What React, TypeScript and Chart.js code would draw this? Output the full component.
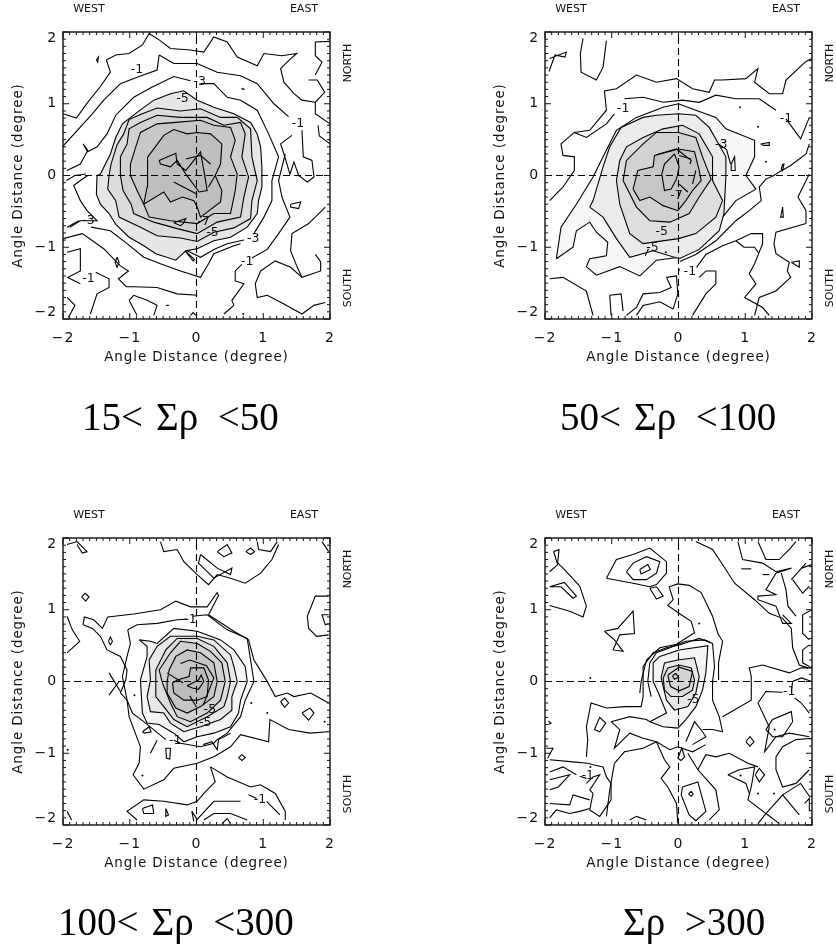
import React, { useEffect, useRef } from "react";
import { Chart, registerables } from "chart.js";

Chart.register(...registerables);

// Values are degrees, stored as flat x,y lists. Filled contours go outermost to innermost.
const tickValues = [-2, -1, 0, 1, 2];
const xAxisTitle = "Angle Distance (degree)";
const yAxisTitle = "Angle Distance (degree)";
const captions = ["15<\u2004\u03A3\u03C1\u2002<50", "50<\u2004\u03A3\u03C1\u2002<100", "100<\u2004\u03A3\u03C1\u2002<300", "\u03A3\u03C1\u2002>300"];

const panelAFills: number[][] = [
  [-1.49,0,-1.5,-0.26,-1.44,-0.4,-1.31,-0.53,-1.21,-0.68,-1.01,-0.86,-0.79,-0.98,-0.61,-1.09,-0.31,-1.18,-0.16,-1.05,0.01,-1.02,0.26,-0.91,0.51,-0.86,0.76,-0.72,0.91,-0.53,0.93,-0.35,0.98,-0.16,0.98,0.12,0.96,0.4,0.91,0.58,0.81,0.74,0.56,0.86,0.26,0.95,0.01,1.05,-0.19,1.18,-0.39,1.14,-0.64,1.05,-0.89,0.88,-1.11,0.72,-1.21,0.53,-1.29,0.3,-1.44,0.02],
  [-1.31,0,-1.33,-0.19,-1.21,-0.35,-1.16,-0.58,-0.84,-0.72,-0.59,-0.84,-0.24,-0.87,0.01,-0.92,0.26,-0.79,0.56,-0.73,0.81,-0.6,0.83,-0.35,0.91,-0.07,0.83,0.26,0.81,0.65,0.61,0.81,0.36,0.81,0.06,0.93,-0.24,0.9,-0.59,0.94,-0.84,0.85,-1.01,0.78,-1.09,0.58,-1.19,0.43,-1.28,0.16],
  [-1.14,0,-1.1,-0.21,-0.98,-0.4,-0.94,-0.53,-0.64,-0.65,-0.29,-0.74,0.01,-0.81,0.31,-0.65,0.66,-0.58,0.71,-0.3,0.78,-0.02,0.68,0.26,0.73,0.58,0.66,0.74,0.41,0.7,0.16,0.81,-0.24,0.81,-0.59,0.84,-0.84,0.74,-1.01,0.65,-1.04,0.44,-1.14,0.26],
  [-0.99,0,-0.89,-0.21,-0.79,-0.4,-0.71,-0.58,-0.39,-0.63,0.01,-0.67,0.26,-0.53,0.51,-0.53,0.58,-0.21,0.61,0.02,0.51,0.26,0.58,0.49,0.51,0.67,0.26,0.7,0.06,0.77,-0.31,0.74,-0.59,0.72,-0.84,0.6,-0.91,0.4,-0.99,0.16],
  [-0.73,0.26,-0.49,0.56,-0.34,0.64,-0.14,0.58,0.01,0.6,0.21,0.58,0.38,0.44,0.36,0.16,0.28,0,0.38,-0.21,0.36,-0.37,0.06,-0.58,0.01,-0.44,-0.04,-0.35,-0.21,-0.3,-0.39,-0.37,-0.49,-0.23,-0.79,-0.4,-0.74,-0.16,-0.74,0,-0.73,0.21],
  [-0.56,0.21,-0.31,0.31,-0.29,0.16,-0.16,0.07,0.06,0.33,0.12,0.02,0.16,-0.21,0.04,-0.23,-0.16,0.02,-0.29,0.21,-0.39,0.12,-0.54,0.16],
];
const panelAFillGreys = ["#e6e6e6", "#dcdcdc", "#d2d2d2", "#c8c8c8", "#bebebe", "#bbbbbb"];
const panelALines: number[][] = [
  [-2,0.86,-1.8,0.8,-1.63,1.02,-1.44,1.24,-1.29,1.44,-1.35,1.61,-1.21,1.68,-1.01,1.7,-0.81,1.82,-0.71,1.98,-0.56,1.89,-0.39,1.77,-0.09,1.75,0.11,1.72,0.26,1.93,0.46,1.86,0.61,1.65,0.91,1.53,1.01,1.7,1.28,1.67,1.5,1.7,1.38,1.6,1.26,1.49,1.31,1.3,1.46,1.14,1.58,1.05,1.78,1.02],
  [-0.56,1.68,-0.59,1.47,-0.89,1.37,-1.14,1.28,-1.39,1.05,-1.56,0.86,-2,0.41],
  [-0.56,1.68,-0.34,1.56,0.01,1.56,0.31,1.44,0.66,1.39,0.91,1.28,1.16,1,1.38,0.82],
  [1.58,0.63,1.6,0.26,1.73,0.21,1.76,-0.02,1.66,-0.09,1.53,0,1.46,0.19,1.4,0.02,1.31,0.3,1.26,0.44,1.43,0.56],
  [2,1.87,1.78,1.86,1.78,1.67,1.88,1.58,1.78,1.4],
  [1.68,1.33,1.81,1.33,1.92,1.16,1.78,1.02,1.78,0.86,2,0.72],
  [1.82,0.7,1.84,0.55,2,0.44],
  [-1.94,0.07,-1.74,0.16,-1.63,0.35,-1.7,0.44,-1.63,0.33,-1.49,0.4,-1.34,0.58,-1.21,0.84,-0.94,1.09,-0.67,1.23,-0.34,1.38,-0.09,1.32],
  [0.06,1.28,0.26,1.28,0.46,1.09,0.66,1.05,0.91,0.91,1.08,0.58,1.23,0.26,1.13,-0.07,1.13,-0.35,1.01,-0.58,0.86,-0.81],
  [0.71,-0.9,0.46,-0.95,0.26,-1.03,0.06,-1.14,-0.14,-1.05],
  [-1.9,-0.72,-1.74,-0.63,-1.49,-0.63,-1.64,-0.49,-1.74,-0.35,-1.84,-0.14,-1.74,-0.07,-1.63,0],
  [-1.94,-0.72,-1.76,-0.63],
  [-1.58,-0.72,-1.29,-0.77,-1.04,-0.95,-0.79,-1.14,-0.54,-1.23,-0.24,-1.33,0.06,-1.42,0.18,-1.23,0.26,-1.09,0.56,-0.98,0.66,-0.95],
  [-2,-0.88,-1.71,-0.81,-1.39,-1.02,-1.14,-1.26,-1.02,-1.33,-1.17,-1.44,-1.05,-1.55,-0.94,-1.55,-0.59,-1.56,-0.29,-1.65,0.01,-1.67],
  [-0.17,-1.05,-0.05,-1.19,-0.03,-1.17,-0.17,-1.05],
  [1.41,-0.4,1.56,-0.37,1.53,-0.46,1.41,-0.44,1.41,-0.4],
  [1.93,-0.44,1.68,-0.67,1.43,-0.81,1.41,-1.05,1.51,-1.28,1.58,-1.42,1.86,-1.33,1.86,-1.2,1.78,-1.1],
  [0.58,-1.33,0.68,-1.24],
  [0.83,-1.15,1.06,-1.03,1.23,-0.81,1.4,-0.58,1.28,-0.3,1.23,-0.07,1.33,0.3],
  [0.58,-1.33,0.58,-1.47,0.71,-1.51,0.53,-1.74,0.56,-1.81,0.41,-1.93],
  [0.96,-1.33,0.88,-1.51,0.91,-1.7,1.06,-1.67,1.31,-1.79,1.58,-1.93,1.76,-1.81,1.93,-1.77],
  [0.96,-1.33,1.18,-1.19,1.41,-1.28,1.58,-1.42],
  [-1.94,-1.07,-1.74,-1.02,-1.74,-1.33,-1.93,-1.42,-1.74,-1.51],
  [-1.51,-1.35,-1.31,-1.44,-1.31,-1.56,-1.49,-1.65,-1.59,-1.93],
  [-1.19,-1.14,-1.16,-1.21,-1.19,-1.28,-1.22,-1.21,-1.19,-1.14],
  [-1.94,-1.7,-1.82,-1.81,-1.92,-1.98],
  [-1.01,-1.74,-0.94,-1.67,-0.74,-1.74,-0.59,-1.81,-0.64,-1.95],
  [-1.01,-1.74,-0.89,-1.95],
  [-0.46,-1.81,-0.41,-1.81],
  [-0.09,-1.95,-0.05,-1.91,-0.01,-1.95],
  [-1.95,-0.07,-1.82,0,-1.66,0.02],
  [-0.16,0.23,0.06,0.28,0.21,0.16],
  [0.28,0,0.18,-0.16],
  [-0.34,-0.09,0.01,-0.26],
  [-0.34,-0.66,-0.16,-0.6,-0.2,-0.67,-0.24,-0.7,-0.34,-0.66],
  [-1.5,1.61,-1.47,1.65,-1.48,1.58,-1.5,1.61],
  [0.7,1.2,0.72,1.2],
];
const panelADots: number[] = [0.69,1.21,0.7,-1.93];
const panelALabels = ["-1", "-3", "-5", "-1", "-7", "-5", "-3", "-1", "-1", "-3"];
const panelALabelSpots: number[] = [-0.89,1.48,0.05,1.3,-0.21,1.07,1.52,0.72,0.11,-0.65,0.24,-0.8,0.85,-0.88,0.76,-1.2,-1.62,-1.44,-1.62,-0.63];

const panelBFills: number[][] = [
  [-1.83,-1.16,-1.76,-0.72,-1.53,-0.4,-1.28,-0.02,-1.13,0.26,-0.93,0.63,-0.63,0.81,-0.23,0.95,0,1,0.26,0.91,0.56,0.81,0.71,0.65,1.14,0.49,1.14,0.26,1.01,0,1.16,-0.19,0.86,-0.35,0.66,-0.58,0.36,-0.91,0.01,-1.14,-0.33,-1.18,-0.58,-1.4,-0.88,-1.27,-1.23,-1.39,-1.38,-1.27,-1.33,-1.16,-1.08,-1.12,-1.06,-0.93,-1.23,-0.79,-1.33,-0.65,-1.53,-0.77,-1.58,-1],
  [-1.33,-0.44,-1.13,-0.58,-0.93,-0.88,-0.73,-1.14,-0.38,-1.05,0.01,-1.16,0.31,-1.03,0.61,-0.77,0.68,-0.53,0.71,-0.02,0.71,0.26,0.46,0.67,0.26,0.84,0,0.86,-0.33,0.84,-0.53,0.81,-0.86,0.67,-1.03,0.4,-1.13,0.12,-1.28,-0.35],
  [-0.93,-0.07,-0.88,-0.4,-0.73,-0.81,-0.53,-0.95,0,-0.88,0.26,-0.81,0.56,-0.58,0.66,-0.35,0.51,-0.07,0.51,0.26,0.31,0.58,0.06,0.7,-0.23,0.65,-0.53,0.53,-0.78,0.4,-0.88,0.21],
  [-0.83,-0.07,-0.63,-0.44,-0.43,-0.63,-0.13,-0.65,0.16,-0.53,0.31,-0.3,0.49,-0.05,0.36,0.26,0.26,0.53,0,0.6,-0.33,0.6,-0.53,0.44,-0.78,0.21],
  [-0.68,-0.19,-0.61,0.07,-0.38,0.12,-0.36,0.28,0,0.37,0.24,0.33,0.31,0.07,0.34,-0.07,0.21,-0.21,0.11,-0.35,-0.01,-0.49,-0.23,-0.42,-0.43,-0.3,-0.58,-0.35],
  [-0.06,0.3,0.01,0.12,-0.03,-0.05,-0.11,-0.19,-0.21,-0.21,-0.25,0.02,-0.21,0.16],
];
const panelBFillGreys = ["#f7f7f7", "#ebebeb", "#dedede", "#d2d2d2", "#c6c6c6", "#c6c6c6"];
const panelBLines: number[][] = [
  [-1.93,-0.35,-1.73,-0.16,-1.56,0.07,-1.56,0.26,-1.73,0.28,-1.76,0.44,-1.56,0.6,-1.38,0.53,-1.08,0.72,-0.96,0.86],
  [-0.81,1.07,-0.53,1.09,-0.23,1.02,0.06,1.05,0.31,1.02,0.56,1.12,0.86,1.07,1.21,1.07,1.46,0.91],
  [1.61,0.79,1.83,0.51,1.96,0.81],
  [1.91,1.59,1.61,1.33,1.56,1.14,1.36,1.14,1.14,1.3,1.19,1.49,1.01,1.35,0.66,1.33,0.54,1.33,0.46,1.16,0.21,1.21,-0.03,1.35,-0.33,1.3,-0.63,1.4,-0.93,1.21,-1.11,1.18,-1.08,0.91,-1.33,0.63,-1.56,0.6],
  [1.91,1.59,2,1.63],
  [-1.43,1.91,-1.47,1.7,-1.46,1.44,-1.23,1.33,-1.13,1.51,-1.08,1.88],
  [-1.93,1.63,-1.68,1.72,-1.7,1.65,-1.85,1.68,-1.94,1.45],
  [-1.93,-1.44,-1.73,-1.42,-1.38,-1.61,-1.28,-1.95],
  [1.96,0.44,1.91,0.3,1.68,0.14,1.51,0.05,1.43,0,1.31,-0.05,1.21,-0.16,1.24,-0.35,1.06,-0.49,0.86,-0.63,0.71,-0.77,0.56,-0.91,0.26,-1.1,0.02,-1.2],
  [0.27,-1.28,0.41,-1.1,0.66,-0.98,0.86,-0.91,1.09,-0.81,1.26,-0.81,1.26,-0.95,1.14,-1.23,1.06,-1.37,1.16,-1.51,0.99,-1.7,1.26,-1.84,1.36,-1.95],
  [0.86,-0.91,0.98,-1,1.14,-1,1.2,-1.08],
  [0.56,-1.33,0.56,-1.51,0.41,-1.65,0.21,-1.95],
  [0.56,-1.33,0.41,-1.33,0.31,-1.42],
  [1.91,-0.67,1.46,-0.79,1.43,-0.95,1.46,-1.09,1.66,-1.21,1.63,-1.33,1.68,-1.42,1.46,-1.61,1.21,-1.7,1.14,-1.95],
  [1.69,-1.21,1.81,-1.28,1.81,-1.19,1.69,-1.21],
  [1.96,0.02,1.79,-0.3,1.91,-0.49,1.91,-0.67],
  [-0.18,-1.42,-0.03,-1.4,-0.01,-1.65,-0.08,-1.86],
  [-0.18,-1.42,-0.11,-1.56,-0.28,-1.63,-0.53,-1.65,-0.63,-1.84,-0.78,-1.95],
  [-0.08,-1.86,-0.28,-1.76,-0.53,-1.81,-0.63,-1.95],
  [-1.03,-1.67,-1.01,-1.95],
  [-1.03,-1.67,-0.86,-1.65,-0.83,-1.89],
  [0.01,-1.3,0.01,-1.33],
  [1.23,0.44,1.36,0.46,1.36,0.42,1.28,0.42,1.23,0.44],
  [0.79,0.16,0.84,0.26,0.85,0.07,0.79,0.07,0.79,0.16],
  [1.56,0.16,1.54,0.09,1.56,0.07,1.58,0.16,1.56,0.16],
  [1.56,-0.44,1.53,-0.58,1.57,-0.58,1.56,-0.44],
  [-0.33,0.29,-0.03,0.37,0.19,0.21,0.17,0.16],
  [0.01,0.28,0.19,0.23],
  [0.26,0.07,0.21,-0.12],
  [0.01,-0.12,0.14,-0.23],
  [0.6,0.44,0.72,0.36,0.78,0.16],
  [-0.45,-1.02,-0.5,-1.12],
];
const panelBDots: number[] = [0.92,0.95,1.19,0.68,1.31,0.19,-0.19,-1.07];
const panelBLabels = ["-1", "-1", "-1", "-3", "-5", "-5", "-7"];
const panelBLabelSpots: number[] = [-0.83,0.93,1.61,0.79,0.17,-1.34,0.64,0.43,-0.25,-0.79,-0.39,-1.0,-0.03,-0.28];

const panelCFills: number[][] = [
  [-0.86,0.58,-0.69,0.56,-0.59,0.53,-0.34,0.74,0.01,0.7,0.36,0.58,0.56,0.44,0.73,0.21,0.76,0,0.66,-0.26,0.63,-0.44,0.51,-0.63,0.26,-0.72,0.01,-0.77,-0.19,-0.84,-0.34,-0.72,-0.56,-0.6,-0.74,-0.58,-0.81,-0.44,-0.84,0.02,-0.74,0.35,-0.74,0.49],
  [-0.69,0.02,-0.71,0.3,-0.59,0.49,-0.39,0.63,0.01,0.63,0.26,0.58,0.51,0.37,0.56,0.21,0.61,0,0.53,-0.21,0.53,-0.4,0.36,-0.53,0.06,-0.63,-0.19,-0.7,-0.39,-0.58,-0.49,-0.44,-0.69,-0.42,-0.74,-0.21],
  [-0.61,0,-0.61,0.16,-0.46,0.44,-0.29,0.6,0.01,0.6,0.26,0.49,0.46,0.26,0.51,0,0.46,-0.21,0.41,-0.35,0.16,-0.49,-0.14,-0.63,-0.34,-0.53,-0.49,-0.35,-0.61,-0.21],
  [-0.51,-0.02,-0.56,0.16,-0.39,0.4,-0.24,0.56,0.01,0.53,0.21,0.42,0.38,0.26,0.43,0,0.36,-0.26,0.16,-0.44,-0.09,-0.56,-0.29,-0.49,-0.39,-0.3],
  [-0.44,0,-0.41,0.16,-0.31,0.35,-0.14,0.44,0.06,0.4,0.26,0.26,0.31,0,0.26,-0.21,0.06,-0.35,-0.14,-0.44,-0.31,-0.37,-0.44,-0.16],
  [-0.36,-0.02,-0.29,0.02,-0.11,0.07,-0.09,0.19,0.11,0.19,0.18,0.02,0.16,-0.21,0.01,-0.26,-0.19,-0.26,-0.34,-0.16],
  [-0.14,-0.06,0.03,0.02,0.07,0.09,0.11,0,0.03,-0.11,-0.06,-0.09],
];
const panelCFillGreys = ["#f5f5f5", "#e9e9e9", "#dddddd", "#d2d2d2", "#c6c6c6", "#bdbdbd", "#bdbdbd"];
const panelCLines: number[][] = [
  [-1.7,0.79,-1.68,0.9,-1.54,0.86,-1.41,0.74,-1.33,0.9,-0.94,0.94,-0.54,1,-0.31,1.12,-0.09,1.04,0.16,1.04,0.31,1.24,0.33,1.2,0.18,0.93],
  [-1.7,0.79,-1.56,0.74,-1.44,0.63,-1.34,0.44,-1.14,0.35,-1.04,0.16,-1.06,0.02,-1.14,-0.16,-1.04,-0.26,-1.01,-0.49,-0.84,-0.91,-0.86,-1.14,-0.95,-1.3,-0.79,-1.5,-0.49,-1.37,-0.34,-1.21,0.01,-1.14,0.26,-1.05,0.51,-0.91,0.66,-0.74,1.08,-0.84,1.1,-0.53,1.38,-0.67,1.7,-0.72,1.97,-0.7],
  [-1.31,0.12,-1.14,-0.14],
  [-1.16,0,-1.31,-0.19],
  [0.18,0.93,0.56,0.7,0.78,0.58,0.86,0.3,0.98,0.12,1.06,0,1.18,-0.21,1.36,-0.16,1.46,-0.21,1.71,-0.16,1.98,-0.3],
  [-1.03,0.72,-0.89,0.79,-0.59,0.81,-0.29,0.86,-0.14,0.87],
  [-0.06,0.91,0.16,0.93,0.46,0.72,0.76,0.6,0.86,0,0.73,-0.26,0.66,-0.49,0.46,-0.72,0.31,-0.81,0.26,-0.86,0.06,-0.91,-0.24,-0.86,-0.34,-0.82],
  [-0.46,-0.81,-0.79,-0.56,-0.96,-0.44,-1.04,-0.26,-1.11,0.07,-1.04,0.35,-0.99,0.53,-1.03,0.72],
  [0.1,-0.88,0.23,-0.84,0.31,-0.95,0.33,-0.81,0.51,-0.72],
  [-0.81,-0.7,-0.71,-0.63,-0.68,-0.7,-0.78,-0.72,-0.81,-0.7],
  [-0.69,-1,-0.59,-0.82],
  [-1.72,1.18,-1.67,1.23,-1.61,1.18,-1.66,1.12,-1.72,1.18],
  [-1.32,0.56,-1.29,0.62,-1.26,0.56,-1.29,0.51,-1.32,0.56],
  [-1.94,0.91,-1.86,0.72,-1.75,0.56,-1.94,0.4],
  [-1.94,1.91,-1.79,1.95,-1.64,1.81,-1.71,1.79,-1.79,1.91],
  [-0.54,1.95,-0.49,1.81,-0.29,1.84,-0.19,1.67,0.01,1.49,0.18,1.35,0.31,1.49,0.51,1.44,0.73,1.37,0.96,1.51,1.13,1.7,1.23,1.91],
  [0.06,1.77,0.03,1.65,0.26,1.44,0.53,1.58,0.51,1.49,0.31,1.58,0.06,1.77],
  [0.31,1.81,0.46,1.91,0.53,1.79,0.41,1.74,0.31,1.81],
  [0.74,1.81,0.81,1.86,0.87,1.81,0.81,1.77,0.74,1.81],
  [0.91,1.95,0.93,1.84,1.11,1.81,1.21,1.95],
  [1.88,1.95,1.98,1.81],
  [1.98,1.19,1.78,1.19,1.66,0.91,1.68,0.74,1.8,0.63,1.98,0.65],
  [1.98,0.93,1.88,0.93,1.93,0.79,1.98,0.81],
  [1.26,-0.28,1.32,-0.23,1.38,-0.3,1.32,-0.36,1.26,-0.28],
  [1.58,-0.44,1.7,-0.37,1.76,-0.44,1.68,-0.54,1.58,-0.44],
  [0.63,-1.06,0.68,-1.02,0.73,-1.06,0.68,-1.1,0.63,-1.06],
  [-0.46,-0.93,-0.39,-0.93,-0.4,-1.08,-0.45,-1.07,-0.46,-0.93],
  [0.21,-1.19,0.28,-1.4,0.11,-1.56,0.01,-1.67,-0.14,-1.72,-0.49,-1.67,-0.79,-1.65,-1.04,-1.81,-0.89,-1.93],
  [0.21,-1.19,0.46,-1.33,0.81,-1.47,0.96,-1.44,1.18,-1.56,1.33,-1.81,1.33,-1.93],
  [-0.07,-1.81,-0.04,-1.95],
  [-0.07,-1.81,0.01,-1.92,0.26,-1.67,0.66,-1.67],
  [0.78,-1.58,0.9,-1.63],
  [1.05,-1.67,1.25,-1.86],
  [0.11,-1.93,0.26,-1.84,0.51,-1.84,0.76,-1.93],
  [0.38,-1.98,0.46,-1.91,0.51,-1.98],
  [-0.81,-1.77,-0.66,-1.72,-0.64,-1.84,-0.79,-1.84,-0.81,-1.77],
  [-0.46,-1.77,-0.42,-1.86,-0.46,-1.88,-0.46,-1.77],
  [-1.94,-1.81,-1.87,-1.93],
  [-0.44,0.12,-0.2,-0.02],
  [-0.24,0.25,-0.1,0.3,0.15,0.22,0.26,0.05,0.1,-0.33],
  [-0.1,-0.2,0.0,-0.36],
];
const panelCDots: number[] = [-1.93,-0.95,-0.93,-0.19,-0.81,-1.31,0.82,-0.3,1.06,-0.44,1.92,-0.56];
const panelCLabels = ["-1", "-1", "-5", "-5", "-1"];
const panelCLabelSpots: number[] = [-0.09,0.86,-0.32,-0.82,0.2,-0.4,0.13,-0.58,0.95,-1.65];

const panelDFills: number[][] = [
  [-0.43,-0.56,-0.18,-0.44,-0.3,-0.16,-0.38,0,-0.38,0.26,-0.28,0.35,0.01,0.44,0.44,0.5,0.41,0.12,0.36,-0.12,0.26,-0.35,0.11,-0.53,-0.01,-0.65,-0.23,-0.63],
  [-0.26,0.05,-0.21,0.26,-0.01,0.3,0.24,0.33,0.31,0.07,0.26,-0.16,0.14,-0.35,-0.06,-0.4,-0.18,-0.26],
  [-0.23,0.05,-0.16,0.19,0.01,0.23,0.19,0.19,0.24,0.02,0.21,-0.12,0.06,-0.21,-0.11,-0.21,-0.21,-0.12],
  [-0.16,0.09,0.01,0.2,0.21,0.14,0.16,-0.07,0.01,-0.13,-0.12,-0.07],
  [-0.09,0.08,-0.04,0.11,0,0.06,-0.06,0.03],
];
const panelDFillGreys = ["#f4f4f4", "#e8e8e8", "#dcdcdc", "#d4d4d4", "#d4d4d4"];
const panelDLines: number[][] = [
  [-0.53,-0.07,-0.53,0.21,-0.38,0.4,-0.18,0.47,0.01,0.51,0.31,0.6,0.51,0.53,0.54,0.21,0.51,0,0.51,-0.26,0.61,-0.49,0.66,-0.7,0.51,-0.67,0.36,-0.67],
  [-0.53,-0.07,-0.53,-0.21,-0.56,-0.35,-0.8,-0.35,-1.08,-0.37,-1.31,-0.3,-1.38,-0.63,-1.36,-0.81,-1.38,-1.05],
  [-1.01,-0.56,-0.73,-0.49,-0.48,-0.53,-0.43,-0.56],
  [-1.01,-0.56,-0.88,-0.67,-0.96,-0.93,-0.73,-0.72,-0.53,-0.79,-0.33,-0.84,-0.13,-0.95,-0.01,-0.91,0.21,-0.98,0.41,-0.88],
  [-0.41,-0.21,-0.46,0,-0.43,0.26,-0.33,0.4,-0.13,0.47,0.11,0.56,0.39,0.58,0.47,0.55],
  [0.6,0.02,0.6,0.26,0.66,0.56,0.59,0.67,0.51,0.91,0.34,1.24,0.16,1.34,-0.01,1.36,-0.14,1.32,-0.08,1.14,-0.16,1.06,0.04,0.93,0.19,0.84,0.24,0.68,-0.03,0.52,-0.28,0.47,-0.48,0.3,-0.56,0,-0.58,-0.16],
  [0.66,-0.49,1.09,-0.26,1.09,0.07,1.06,0.19,1.26,0.23,1.66,0.12,1.84,0.19,2,0.19],
  [1.19,-0.3,1.31,-0.14,1.56,-0.15],
  [1.69,-0.14,1.71,0,1.84,0.05,2,0],
  [1.19,-0.3,1.36,-0.63,1.29,-0.98,1.46,-0.77,1.66,-0.72,1.96,-0.77],
  [1.74,-0.23,1.84,-0.3,1.96,-0.44],
  [1.31,-0.67,1.41,-0.53,1.69,-0.42,1.71,-0.56,1.56,-0.77,1.41,-0.77,1.31,-0.67],
  [0.26,1.95,0.51,1.84,0.66,1.63,0.84,1.37,1.14,1.14,1.36,0.95,1.56,0.88,1.69,0.74,1.71,0.47,1.81,0.23,1.94,0.19],
  [0.89,1.95,0.96,1.7,1.26,1.65,1.46,1.53,1.69,1.58,1.46,1.51,1.31,1.28,1.46,1.21,1.19,1.19,1.19,1.14,1.46,1.05,1.56,0.81,1.69,0.81,1.56,0.93],
  [1.19,1.95,1.31,1.7,1.51,1.7,1.66,1.84,1.76,1.95],
  [1.54,1.51,1.61,1.28,1.64,1.05,1.76,0.91],
  [1.69,1.42,1.91,1.65],
  [1.71,1.42,1.86,1.23,1.96,1.33],
  [1.84,1.58,2,1.63],
  [2,1,1.86,0.93,1.86,0.67,1.96,0.58],
  [1.96,0.51,1.86,0.44,1.86,0.26,1.96,0.21],
  [0.94,1.57,1.09,1.57],
  [1.26,1.49,1.36,1.49],
  [-1.87,1.81,-1.79,1.84,-1.81,1.65,-1.73,1.58,-1.48,1.33,-1.38,1.05,-1.43,0.9,-1.63,0.98,-1.93,1.06],
  [-1.87,1.81,-1.81,1.63,-1.93,1.53],
  [-1.93,1.32,-1.71,1.38,-1.53,1.19,-1.58,1.16,-1.76,1.32,-1.93,1.32],
  [-1.08,1.44,-0.93,1.7,-0.68,1.77,-0.43,1.86,-0.18,1.67,-0.18,1.51,-0.33,1.35,-0.43,1.32,-0.68,1.37,-1.08,1.44],
  [-0.78,1.53,-0.68,1.65,-0.48,1.74,-0.28,1.67,-0.33,1.51,-0.48,1.42,-0.68,1.42,-0.78,1.53],
  [-0.58,1.56,-0.46,1.63,-0.42,1.56,-0.56,1.5,-0.58,1.56],
  [-0.43,1.3,-0.33,1.32,-0.23,1.19,-0.33,1.15,-0.43,1.3],
  [-1.11,0.7,-0.91,0.74,-0.68,0.98,-0.66,0.67,-0.88,0.65,-0.98,0.44,-0.83,0.42,-0.96,0.58,-1.11,0.7],
  [-1.93,-1.09,-1.58,-1.12,-1.36,-1.14,-1.28,-1.16,-1.13,-1.19,-1.08,-1.33,-1.01,-1.42,-1.01,-1.65,-1.18,-1.88,-1.33,-1.79,-1.28,-1.56,-1.33,-1.51,-1.18,-1.3,-1.28,-1.33,-1.38,-1.42],
  [-1.93,-1.26,-1.73,-1.19,-1.53,-1.3],
  [-1.93,-1.37,-1.63,-1.3,-1.8,-1.47,-1.93,-1.51],
  [-1.93,-1.7,-1.63,-1.72,-1.58,-1.58,-1.33,-1.65],
  [-1.93,-1.9,-1.83,-1.79,-1.63,-1.84,-1.48,-1.81,-1.33,-1.77],
  [-1.48,-1.32,-1.38,-1.35],
  [-1.98,-0.93,-1.88,-0.93,-1.96,-1.07],
  [-1.95,-0.55,-1.91,-0.58,-1.95,-0.6],
  [-1.26,-0.67,-1.18,-0.5,-1.09,-0.58,-1.18,-0.7,-1.26,-0.67],
  [0.11,-0.84,0.24,-0.56,0.36,-0.7,0.41,-0.77,0.21,-0.88],
  [-0.01,-1.07,0.05,-0.93,0.09,-1.05,0.04,-1.1,-0.01,-1.07],
  [-0.96,-1.14,-0.81,-0.98,-0.53,-0.93,-0.33,-0.84,-0.21,-1.09,-0.13,-1.19,-0.26,-1.35,-0.16,-1.47,-0.03,-1.7,-0.01,-1.98],
  [-0.96,-1.14,-1.03,-1.51,-1.08,-1.88],
  [0.14,-1,0.29,-1.23,0.56,-1.51,0.61,-1.79,0.46,-1.93],
  [0.29,-1.23,0.41,-1.02,0.56,-1.05,0.76,-1,1.04,-1.14,1.19,-1.19],
  [0.06,-1.47,0.29,-1.4,0.41,-1.81,0.26,-1.94,0.16,-1.86,0.04,-1.58,0.06,-1.47],
  [0.15,-1.57,0.19,-1.53,0.22,-1.57,0.19,-1.6,0.15,-1.57],
  [0.74,-1.3,0.91,-1.23,1.14,-1.19,1.09,-1.47,1.04,-1.65,1.31,-1.84,1.19,-1.98],
  [0.74,-1.3,1.01,-1.42,1.06,-1.56],
  [1.31,-1.84,1.51,-1.98],
  [1.31,-1.84,1.56,-1.58,1.81,-1.86],
  [1.56,-1.58,1.83,-1.42,1.96,-1.6],
  [1.46,-1.05,1.46,-1.23,1.56,-1.47,1.76,-1.42,1.96,-1.23],
  [1.46,-1.05,1.56,-0.91,1.76,-0.81,2,-0.79],
  [1.89,-1.7,1.96,-1.63,1.96,-1.81],
  [1.01,-0.84,1.07,-0.77,1.13,-0.84,1.07,-0.9,1.01,-0.84],
  [1.15,-1.3,1.21,-1.21,1.29,-1.3,1.21,-1.4,1.15,-1.3],
  [-0.73,-1.93,-0.63,-1.88,-0.48,-1.93],
];
const panelDDots: number[] = [0.31,0.81,-1.32,0.05,1.44,-0.67,1.19,-1.56,1.43,-1.56,-1.32,-1.19,0.93,-1.31];
const panelDLabels = ["-1", "-1", "-5"];
const panelDLabelSpots: number[] = [1.66,-0.14,-1.36,-1.32,0.22,-0.25];

type Panel = {
  fills: number[][]; greys: string[]; lines: number[][]; dots: number[];
  labels: string[]; spots: number[]; left: number; top: number;
  caption: string; captionLeft: number; captionBaseline: number;
};
const panels: Panel[] = [
  { fills: panelAFills, greys: panelAFillGreys, lines: panelALines, dots: panelADots, labels: panelALabels, spots: panelALabelSpots, left: 0, top: 0, caption: captions[0], captionLeft: 82, captionBaseline: 430 },
  { fills: panelBFills, greys: panelBFillGreys, lines: panelBLines, dots: panelBDots, labels: panelBLabels, spots: panelBLabelSpots, left: 482, top: 0, caption: captions[1], captionLeft: 560, captionBaseline: 430 },
  { fills: panelCFills, greys: panelCFillGreys, lines: panelCLines, dots: panelCDots, labels: panelCLabels, spots: panelCLabelSpots, left: 0, top: 506, caption: captions[2], captionLeft: 58, captionBaseline: 935 },
  { fills: panelDFills, greys: panelDFillGreys, lines: panelDLines, dots: panelDDots, labels: panelDLabels, spots: panelDLabelSpots, left: 482, top: 506, caption: captions[3], captionLeft: 623, captionBaseline: 935 },
];

const pairs = (flat: number[]) => {
  const out: { x: number; y: number }[] = [];
  for (let i = 0; i + 1 < flat.length; i += 2) out.push({ x: flat[i], y: flat[i + 1] });
  return out;
};

const FONT = "'DejaVu Sans', sans-serif";
const CANVAS_W = 354;
const CANVAS_H = 440;
const AREA = { left: 63, right: 330, top: 32, bottom: 319 };
const AXIS_SPACING = "0.9px";

const framePlugin = (panel: Panel) => ({
  id: "frame",
  beforeDraw(chart: any) {
    chart.ctx.letterSpacing = AXIS_SPACING;
  },
  afterDatasetsDraw(chart: any) {
    const { ctx, chartArea: a, scales } = chart;
    ctx.save();
    ctx.strokeStyle = "#111";
    ctx.fillStyle = "#111";
    ctx.lineWidth = 1;
    for (let i = -20; i <= 20; i++) {
      const major = i % 10 === 0;
      const len = major ? 6 : 3;
      const px = scales.x.getPixelForValue(i / 10);
      const py = scales.y.getPixelForValue(i / 10);
      ctx.beginPath();
      ctx.moveTo(px, a.bottom); ctx.lineTo(px, a.bottom - len);
      ctx.moveTo(px, a.top); ctx.lineTo(px, a.top + len);
      ctx.moveTo(a.left, py); ctx.lineTo(a.left + len, py);
      ctx.moveTo(a.right, py); ctx.lineTo(a.right - len, py);
      ctx.stroke();
    }
    ctx.lineWidth = 1.4;
    ctx.strokeRect(a.left, a.top, a.right - a.left, a.bottom - a.top);

    ctx.textAlign = "center";
    ctx.textBaseline = "middle";
    ctx.letterSpacing = "0px";
    ctx.font = `11px ${FONT}`;
    ctx.fillText("WEST", a.left + 26, a.top - 23);
    ctx.fillText("EAST", a.left + 241, a.top - 23);
    for (const [word, y] of [["NORTH", 63], ["SOUTH", 288]] as [string, number][]) {
      ctx.save();
      ctx.translate(348, y);
      ctx.rotate(-Math.PI / 2);
      ctx.fillText(word, 0, 0);
      ctx.restore();
    }
    ctx.font = `12.5px ${FONT}`;
    panel.labels.forEach((text, i) => {
      const x = scales.x.getPixelForValue(panel.spots[i * 2]);
      const y = scales.y.getPixelForValue(panel.spots[i * 2 + 1]);
      ctx.fillText(text, x, y);
    });
    ctx.restore();
    ctx.letterSpacing = AXIS_SPACING;
  },
});

function ContourPanel({ panel }: { panel: Panel }) {
  const ref = useRef<HTMLCanvasElement>(null);
  useEffect(() => {
    const line = (data: any[], extra: any = {}) => ({
      data, showLine: true, pointRadius: 0, borderColor: "#000", borderWidth: 1.1, tension: 0, fill: false, ...extra,
    });
    const fills = panel.fills.map((flat, i) => {
      const pts = pairs(flat);
      return line([...pts, pts[0]], { fill: "shape", backgroundColor: panel.greys[i] });
    });
    const contours = panel.lines.map((flat) => line(pairs(flat)));
    const dots = { data: pairs(panel.dots), showLine: false, pointRadius: 1, pointBackgroundColor: "#000", pointBorderWidth: 0 };
    const axesCross = [
      line([{ x: 0, y: -2 }, { x: 0, y: 2 }], { borderDash: [7, 4] }),
      line([{ x: -2, y: 0 }, { x: 2, y: 0 }], { borderDash: [7, 4] }),
    ];
    // Chart.js paints the first dataset on top, so the list runs top layer first.
    const datasets = [...axesCross, dots, ...contours, ...fills.slice().reverse()];
    const tickFont = { family: FONT, size: 14, lineHeight: 0.9 };
    const chart = new Chart(ref.current as HTMLCanvasElement, {
      type: "scatter",
      data: { datasets: datasets as any },
      plugins: [framePlugin(panel) as any],
      options: {
        responsive: false,
        animation: false,
        layout: {
          padding: { left: AREA.left - 55, right: CANVAS_W - AREA.right, top: AREA.top, bottom: CANVAS_H - AREA.bottom - 47 },
        },
        plugins: { legend: { display: false }, tooltip: { enabled: false }, title: { display: false } },
        scales: {
          x: {
            type: "linear", min: -2, max: 2,
            afterFit: (s: any) => { s.height = 47; },
            afterBuildTicks: (s: any) => { s.ticks = tickValues.map((value) => ({ value })); },
            grid: { display: false, drawTicks: false },
            border: { display: false },
            ticks: { color: "#111", font: tickFont, padding: 13, maxRotation: 0, autoSkip: false, callback: (v: any) => String(v).replace("-", "\u2212") },
            title: { display: true, text: xAxisTitle, color: "#111", font: { family: FONT, size: 13.5, lineHeight: 1.2 }, padding: 0 },
          },
          y: {
            type: "linear", min: -2, max: 2,
            afterFit: (s: any) => { s.width = 55; },
            afterBuildTicks: (s: any) => { s.ticks = tickValues.map((value) => ({ value })); },
            grid: { display: false, drawTicks: false },
            border: { display: false },
            ticks: {
              color: "#111", font: tickFont, padding: 6, autoSkip: false,
              callback: (v: any) => {
                const text = String(v).replace("-", "\u2212");
                if (v === 2) return ["", text];
                if (v === -2) return [text, ""];
                return text;
              },
            },
            title: { display: true, text: yAxisTitle, color: "#111", font: { family: FONT, size: 13.5, lineHeight: 1.2 }, padding: { top: 2, bottom: 0 } },
          },
        },
      } as any,
    });
    return () => chart.destroy();
  }, [panel]);
  return (
    <canvas
      ref={ref}
      width={CANVAS_W}
      height={CANVAS_H}
      style={{ position: "absolute", left: panel.left, top: panel.top, width: CANVAS_W, height: CANVAS_H }}
    />
  );
}

export default function App() {
  return (
    <div style={{ position: "absolute", left: 0, top: 0, width: 836, height: 949, background: "#fff", overflow: "hidden" }}>
      {panels.map((p, i) => (
        <React.Fragment key={i}>
          <ContourPanel panel={p} />
          <div
            style={{
              position: "absolute", left: p.captionLeft, top: p.captionBaseline - 36, lineHeight: "45px", whiteSpace: "pre",
              fontFamily: "'Liberation Serif', serif", fontSize: 39, color: "#000",
            }}
          >
            {p.caption}
          </div>
        </React.Fragment>
      ))}
    </div>
  );
}
